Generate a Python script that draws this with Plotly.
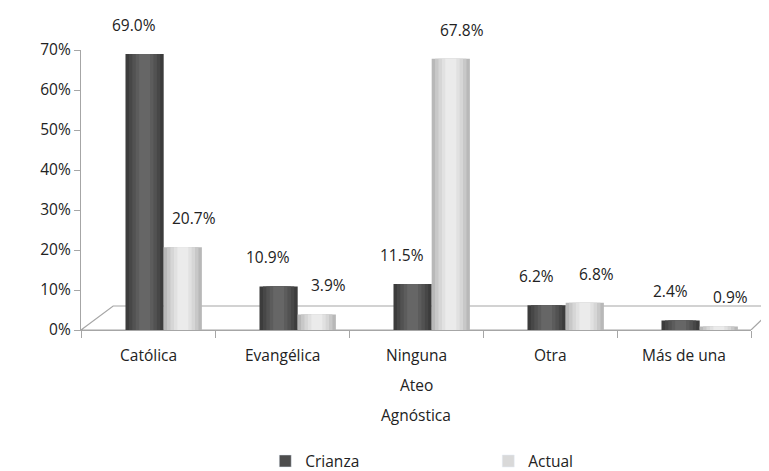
import plotly.graph_objects as go

categories = ["Católica", "Evangélica", "Ninguna<br>Ateo<br>Agnóstica", "Otra", "Más de una"]
crianza = [0.690, 0.109, 0.115, 0.062, 0.024]
actual = [0.207, 0.039, 0.678, 0.068, 0.009]
y_ticks = [0, 0.1, 0.2, 0.3, 0.4, 0.5, 0.6, 0.7]
y_tick_labels = ["0%", "10%", "20%", "30%", "40%", "50%", "60%", "70%"]

FONT = "Open Sans, Lato, sans-serif"
FS = 15.5
TXT = "#222222"
BW = 0.285
OFF_C = -0.168
OFF_A = 0.117

fig = go.Figure()

def cylinder(name, vals, off, shades, legend_color):
    n = len(shades)
    for i, col in enumerate(shades):
        inset = BW * 0.5 * i / (n + 0.6)
        w = BW - 2 * inset
        fig.add_trace(go.Bar(
            x=categories, y=vals, name=name,
            offset=off + inset, width=w,
            marker=dict(color=col, line=dict(width=0)),
            showlegend=False, legendgroup=name,
        ))
    fig.add_trace(go.Bar(x=[categories[0]], y=[None], name=name,
                         marker=dict(color=legend_color), showlegend=True,
                         legendgroup=name))

cylinder("Crianza", crianza, OFF_C, ["#3c3c3c", "#474747", "#525252", "#5c5c5c", "#666666"], "#4d4d4d")
cylinder("Actual", actual, OFF_A, ["#b8b8b8", "#c8c8c8", "#d6d6d6", "#e1e1e1", "#ebebeb"], "#d9d9d9")

for cat, v in zip(categories, crianza):
    fig.add_annotation(x=cat, y=v, text=f"{v*100:.1f}%", showarrow=False,
                       xshift=-14, yshift=29, font=dict(family=FONT, size=FS, color=TXT))
for cat, v in zip(categories, actual):
    fig.add_annotation(x=cat, y=v, text=f"{v*100:.1f}%", showarrow=False,
                       xshift=46, yshift=29, font=dict(family=FONT, size=FS, color=TXT))

for cat in categories:
    for k, line in enumerate(cat.split("<br>")):
        fig.add_annotation(x=cat, y=0, yref="y", text=line, showarrow=False,
                           yshift=-(25 + 30 * k), font=dict(family=FONT, size=FS, color=TXT))

fig.add_shape(type="path", xref="x domain", yref="y",
              path="M 0 0 L 0.048 0.06 L 1.037 0.06 L 1.0 0 Z",
              line=dict(color="#a6a6a6", width=1.2), fillcolor="rgba(255,255,255,0)", layer="below")

fig.update_layout(
    width=769, height=471,
    margin=dict(l=73, r=26, t=42, b=149, autoexpand=False),
    paper_bgcolor="white", plot_bgcolor="white",
    barmode="overlay",
    font=dict(family=FONT, size=FS, color=TXT),
    showlegend=True,
    legend=dict(orientation="h", x=0.275, xanchor="left", y=-0.53, yanchor="bottom",
                entrywidth=178, font=dict(size=FS), itemwidth=30, bgcolor="rgba(0,0,0,0)"),
)
fig.update_xaxes(type="category", tickson="boundaries", ticks="outside", ticklen=7,
                 tickcolor="#a6a6a6", showline=True, linecolor="#a6a6a6", linewidth=1.2,
                 showgrid=False, showticklabels=False, range=[-0.5, 4.5], automargin=False)
fig.update_yaxes(range=[0, 0.7], tickvals=y_ticks, ticktext=y_tick_labels,
                 ticks="outside", ticklen=6, tickcolor="#a6a6a6", showline=True,
                 linecolor="#a6a6a6", linewidth=1.2, showgrid=False, zeroline=False,
                 tickfont=dict(size=FS), automargin=False)

fig.write_html("out.html")
